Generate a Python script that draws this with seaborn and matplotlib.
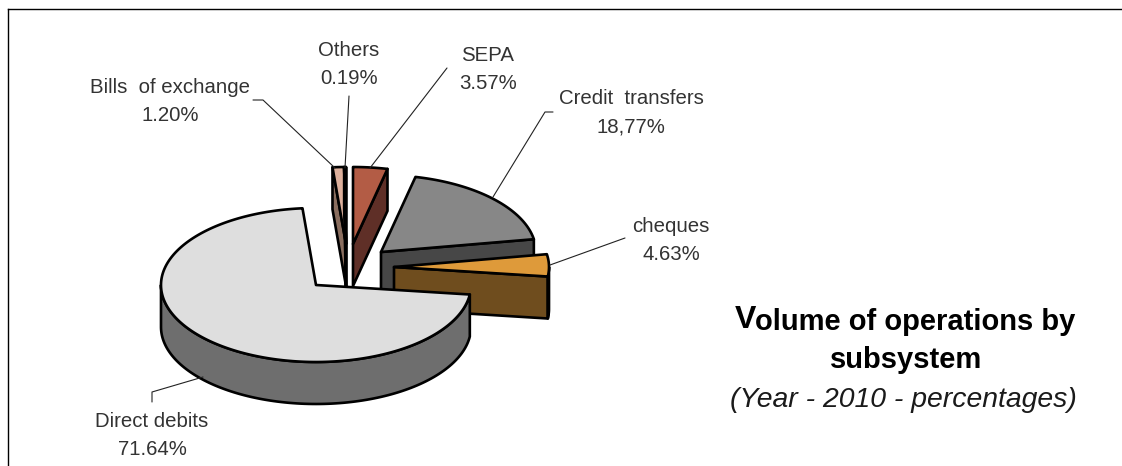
import numpy as np
import matplotlib
matplotlib.use("Agg")
import matplotlib.pyplot as plt
import seaborn as sns

# data, clockwise from the back of the pie
categories = ["Bills  of exchange", "Others", "SEPA", "Credit  transfers", "cheques", "Direct debits"]
values = [1.20, 0.19, 3.57, 18.77, 4.63, 71.64]
value_labels = ["1.20%", "0.19%", "3.57%", "18,77%", "4.63%", "71.64%"]

top_colors = ["#DDB09C", "#E9CDBD", "#B35C45", "#878787", "#DE9A3A", "#DEDEDE"]
side_colors = ["#8A6E5F", "#6E5548", "#5F2F27", "#474747", "#6F4D1E", "#6E6E6E"]

# pie shape in pixels
RX, RY, DEPTH = 155, 77, 42
START_ANGLE = 95
apexes = [(346, 244), (346, 244), (353, 244), (381, 252), (394, 267), (316, 285)]

label_pos = [(170, 87), (349, 50), (488, 55), (631, 98), (671, 226), (152, 421)]
leaders = [
    [(253, 100), (263, 100), (335, 168)],
    [(349, 96), (345, 168)],
    [(447, 68), (370, 168)],
    [(553, 112), (545, 112), (493, 197)],
    [(625, 238), (550, 265)],
    [(152, 402), (152, 392), (203, 377)],
]

sns.set_theme(style="white")
plt.rcParams["font.family"] = ["Liberation Sans", "DejaVu Sans"]

fig = plt.figure(figsize=(11.22, 4.66), dpi=100)
ax = fig.add_axes([8 / 1122, 0, 1 - 8 / 1122, 1 - 9 / 466])
ax.set_xlim(8, 1122)
ax.set_ylim(466, 9)
ax.set_xticks([])
ax.set_yticks([])
for side in ["right", "bottom"]:
    ax.spines[side].set_visible(False)
for side in ["left", "top"]:
    ax.spines[side].set_color("black")
    ax.spines[side].set_linewidth(1.0)

edge = dict(edgecolor="black", linewidth=1.9, joinstyle="round")


def rim_point(apex, deg):
    rad = np.deg2rad(deg)
    return apex[0] + RX * np.cos(rad), apex[1] - RY * np.sin(rad)


def wall(apex, deg, side):
    x, y = rim_point(apex, deg)
    ax.fill([apex[0], x, x, apex[0]], [apex[1], y, y + DEPTH, apex[1] + DEPTH],
            facecolor=side, **edge)


def draw_slice(apex, hi, lo, top, side):
    # walls first, then the rim, then the top face
    if np.cos(np.deg2rad(hi)) < 0:
        wall(apex, hi, side)
    if np.cos(np.deg2rad(lo)) > 0:
        wall(apex, lo, side)

    # front rim is where the sine is negative
    a, b = min(hi, 0), max(lo, -180)
    if a > b:
        t = np.linspace(a, b, 120)
        x, y = rim_point(apex, t)
        ax.fill(np.r_[x, x[::-1]], np.r_[y, y[::-1] + DEPTH], facecolor=side, **edge)

    t = np.linspace(hi, lo, max(int(hi - lo) * 2, 4))
    x, y = rim_point(apex, t)
    ax.fill(np.r_[apex[0], x], np.r_[apex[1], y], facecolor=top, **edge)


spans = np.array(values) * 3.6
hi_angles = START_ANGLE - np.r_[0, np.cumsum(spans)[:-1]]
lo_angles = hi_angles - spans

for i in range(len(values)):
    draw_slice(apexes[i], hi_angles[i], lo_angles[i], top_colors[i], side_colors[i])

for path in leaders:
    xs, ys = zip(*path)
    ax.plot(xs, ys, color="#222222", lw=0.8)

for name, val, (x, y) in zip(categories, value_labels, label_pos):
    ax.text(x, y, name, ha="center", va="center", fontsize=14.7, color="#333333")
    ax.text(x, y + 28.5, val, ha="center", va="center", fontsize=14.7, color="#333333")

# title, big first letter like the original
ax.text(735, 320, "V", ha="left", va="center", fontsize=23, fontweight="bold", color="black")
ax.text(755, 322, "olume of operations by", ha="left", va="center", fontsize=21,
        fontweight="bold", color="black")
ax.text(906, 360, "subsystem", ha="center", va="center", fontsize=21, fontweight="bold", color="black")
ax.text(903, 400, "(Year - 2010 - percentages)", ha="center", va="center", fontsize=20.4,
        fontstyle="italic", color="#1a1a1a")

fig.savefig("out.png", dpi=100)
